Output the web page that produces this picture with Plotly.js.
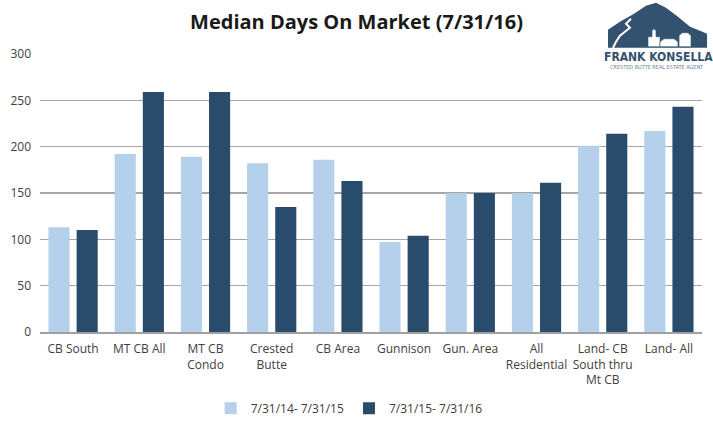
<!DOCTYPE html>
<html><head><meta charset="utf-8">
<script src="https://cdn.plot.ly/plotly-3.0.1.min.js"></script>
<style>html,body{margin:0;padding:0;background:#fff}#chart{width:713px;height:432px}</style>
</head><body><div id="chart"></div>
<script>
const categories = ["CB South","MT CB All","MT CB<br>Condo","Crested<br>Butte","CB Area","Gunnison","Gun. Area","All<br>Residential","Land- CB<br>South thru<br>Mt CB","Land- All"];
const seriesNames = ["7/31/14- 7/31/15","7/31/15- 7/31/16"];
const values2015 = [113,192,189,182,186,97,150,150,201,217];
const values2016 = [110,259,259,135,163,104,150,161,214,243];
const yTicks = [0,50,100,150,200,250,300];

const L=40, R=702, T=54.3, B=333;
const px = x => (x-L)/(R-L);
const py = y => (B-y)/(B-T);
function path(pts){return pts.map((p,i)=>(i?'L':'M')+px(p[0]).toFixed(4)+','+py(p[1]).toFixed(4)).join(' ')+' Z';}
function line(pts){return pts.map((p,i)=>(i?'L':'M')+px(p[0]).toFixed(4)+','+py(p[1]).toFixed(4)).join(' ');}

const traces = [
  {type:'bar', name:seriesNames[0], x:categories, y:values2015, marker:{color:'#B5D0EA'}},
  {type:'bar', name:seriesNames[1], x:categories, y:values2016, marker:{color:'#294B6C'}}
];
const dark='#33526F';
const layout = {
  width:713, height:432,
  margin:{l:L, r:713-R, t:T, b:432-B},
  paper_bgcolor:'#fff', plot_bgcolor:'#fff',
  font:{family:'Open Sans, sans-serif', size:12, color:'#404040'},
  title:{text:'<b>Median Days On Market (7/31/16)</b>', x:0.5, xref:'container', xanchor:'center', y:0.949, yref:'container', yanchor:'middle', font:{size:20, color:'#1a1a1a'}},
  barmode:'group', bargap:0.15, bargroupgap:0.25,
  showlegend:true,
  legend:{orientation:'h', x:0.467, xanchor:'center', y:-0.27, yanchor:'middle', font:{size:12,color:'#404040'}, itemwidth:30, traceorder:'normal'},
  xaxis:{type:'category', showgrid:false, showline:true, linecolor:'#A0A0A0', linewidth:1.5, ticks:'', tickfont:{size:12,color:'#404040'}, fixedrange:true, ticklabelstandoff:5},
  yaxis:{range:[0,300], tickvals:yTicks, showgrid:true, gridcolor:'#A6A6A6', gridwidth:1.5, zeroline:false, showline:false, ticks:'', tickfont:{size:12,color:'#404040'}, ticklabelstandoff:8},
  shapes:[
    {type:'rect', xref:'paper', yref:'paper', x0:px(603), x1:px(712), y0:py(72), y1:py(49), fillcolor:'#ffffff', line:{width:0}},
    {type:'path', xref:'paper', yref:'paper', path:path([[608,48],[608,30],[620,22],[634,14],[646,6],[656,3],[666,8],[678,17],[690,27],[700,31],[707,34],[707,48]]), fillcolor:dark, line:{width:0}},
    {type:'path', xref:'paper', yref:'paper', path:line([[631,19],[626,24],[630,28],[620,36],[616,42],[613,48]]), line:{color:'#ffffff', width:2}},
    {type:'path', xref:'paper', yref:'paper', path:path([[648,47],[648,37],[652,37],[652,31],[654,29],[656,31],[656,37],[660,37],[660,47]]), fillcolor:'#ffffff', line:{color:dark,width:0.6}},
    {type:'path', xref:'paper', yref:'paper', path:path([[660,47],[660,42],[664,39],[674,39],[678,42],[678,47]]), fillcolor:'#ffffff', line:{color:dark,width:0.6}},
    {type:'path', xref:'paper', yref:'paper', path:path([[679,47],[679,36],[682,33],[688,33],[691,36],[691,47]]), fillcolor:'#ffffff', line:{color:dark,width:0.6}}
  ],
  annotations:[
    {xref:'paper', yref:'paper', x:px(658), y:py(57), text:'<b>FRANK KONSELLA</b>', showarrow:false, font:{family:'DejaVu Sans Condensed, Liberation Sans Narrow, sans-serif', size:12, color:dark}, xanchor:'center', yanchor:'middle'},
    {xref:'paper', yref:'paper', x:px(657), y:py(67), text:'CRESTED BUTTE REAL ESTATE AGENT', showarrow:false, font:{family:'DejaVu Sans Condensed, sans-serif', size:5.5, color:'#6b7f95'}, xanchor:'center', yanchor:'middle'}
  ]
};
Plotly.newPlot('chart', traces, layout, {displayModeBar:false, staticPlot:true});
</script></body></html>
